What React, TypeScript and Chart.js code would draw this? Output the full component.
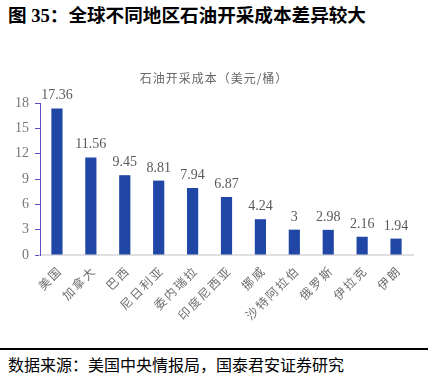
import React, { useEffect, useRef } from "react";
import { Chart, registerables } from "chart.js";

Chart.register(...registerables);

const categories = ["美国", "加拿大", "巴西", "尼日利亚", "委内瑞拉", "印度尼西亚", "挪威", "沙特阿拉伯", "俄罗斯", "伊拉克", "伊朗"];
const costs = [17.36, 11.56, 9.45, 8.81, 7.94, 6.87, 4.24, 3, 2.98, 2.16, 1.94];
const yTicks = [0, 3, 6, 9, 12, 15, 18];
const titleText = "图 35：全球不同地区石油开采成本差异较大";
const chartTitle = "石油开采成本（美元/桶）";
const sourceText = "数据来源：美国中央情报局，国泰君安证券研究";

const valueLabels = {
  id: "valueLabels",
  afterDatasetsDraw(chart: any) {
    const ctx = chart.ctx;
    const meta = chart.getDatasetMeta(0);
    ctx.save();
    ctx.font = '14px "Liberation Serif"';
    ctx.fillStyle = "#595959";
    ctx.textAlign = "center";
    ctx.textBaseline = "alphabetic";
    meta.data.forEach((bar: any, i: number) => {
      ctx.fillText(String(costs[i]), bar.x, bar.y - 9);
    });
    ctx.restore();
  },
};

const xLabels = {
  id: "xLabels",
  afterDraw(chart: any) {
    const ctx = chart.ctx;
    const xs = chart.scales.x;
    ctx.save();
    ctx.font = '12px "Noto Sans CJK SC"';
    ctx.fillStyle = "#6e6e6e";
    ctx.textAlign = "right";
    ctx.textBaseline = "middle";
    try {
      (ctx as any).letterSpacing = "2px";
    } catch (e) {}
    categories.forEach((c, i) => {
      const x = xs.getPixelForValue(i);
      ctx.save();
      ctx.translate(x + 3, xs.top + 13);
      ctx.rotate(-Math.PI / 4);
      ctx.fillText(c, 0, 0);
      ctx.restore();
    });
    ctx.restore();
  },
};

export default function App() {
  const ref = useRef<HTMLCanvasElement>(null);
  useEffect(() => {
    if (!ref.current) return;
    const chart = new Chart(ref.current, {
      type: "bar",
      data: {
        labels: categories,
        datasets: [
          {
            data: costs,
            backgroundColor: "#2046a6",
            borderWidth: 0,
            barPercentage: 0.33,
            categoryPercentage: 1,
          },
        ],
      },
      options: {
        responsive: false,
        animation: false,
        devicePixelRatio: 1,
        layout: { padding: { top: 103, right: 15, left: 0, bottom: 0 } },
        plugins: { legend: { display: false }, tooltip: { enabled: false } },
        scales: {
          x: {
            grid: { display: false, drawTicks: false },
            border: { display: true, color: "#e0e0e0", width: 2 },
            ticks: { display: false },
            afterFit(scale: any) {
              scale.height = 90;
            },
          },
          y: {
            min: 0,
            max: 18,
            afterBuildTicks(scale: any) {
              scale.ticks = yTicks.map((v) => ({ value: v }));
            },
            grid: { drawOnChartArea: false, drawTicks: true, tickLength: 5, color: "#5b50c8" },
            border: { display: true, color: "#5b50c8", width: 1 },
            ticks: {
              padding: 6,
              color: "#777",
              font: { family: '"Liberation Serif"', size: 14 },
            },
            afterFit(scale: any) {
              scale.width = 40;
            },
          },
        },
      },
      plugins: [valueLabels, xLabels],
    });
    return () => chart.destroy();
  }, []);

  return (
    <div style={{ position: "fixed", left: 0, top: 0, width: 428, height: 378, background: "#fff", overflow: "hidden" }}>
      <div
        style={{
          position: "absolute",
          left: 8,
          top: 4,
          fontFamily: '"Liberation Serif", "Noto Sans CJK SC"',
          fontWeight: "bold",
          fontSize: 18.6,
          color: "#000",
          whiteSpace: "nowrap",
          lineHeight: "24px",
        }}
      >
        {titleText}
      </div>
      <canvas ref={ref} width={428} height={345} style={{ position: "absolute", left: 0, top: 0 }} />
      <div
        style={{
          position: "absolute",
          left: 0,
          width: 428,
          top: 70,
          textAlign: "center",
          fontFamily: '"Noto Sans CJK SC"',
          fontSize: 12,
          letterSpacing: 1,
          color: "#666",
          lineHeight: "16px",
        }}
      >
        {chartTitle}
      </div>
      <div style={{ position: "absolute", left: 0, top: 348, width: 428, height: 2, background: "#000" }} />
      <div
        style={{
          position: "absolute",
          left: 8,
          top: 353,
          fontFamily: '"Noto Sans CJK SC"',
          fontSize: 16,
          color: "#000",
          whiteSpace: "nowrap",
          lineHeight: "22px",
        }}
      >
        {sourceText}
      </div>
    </div>
  );
}
